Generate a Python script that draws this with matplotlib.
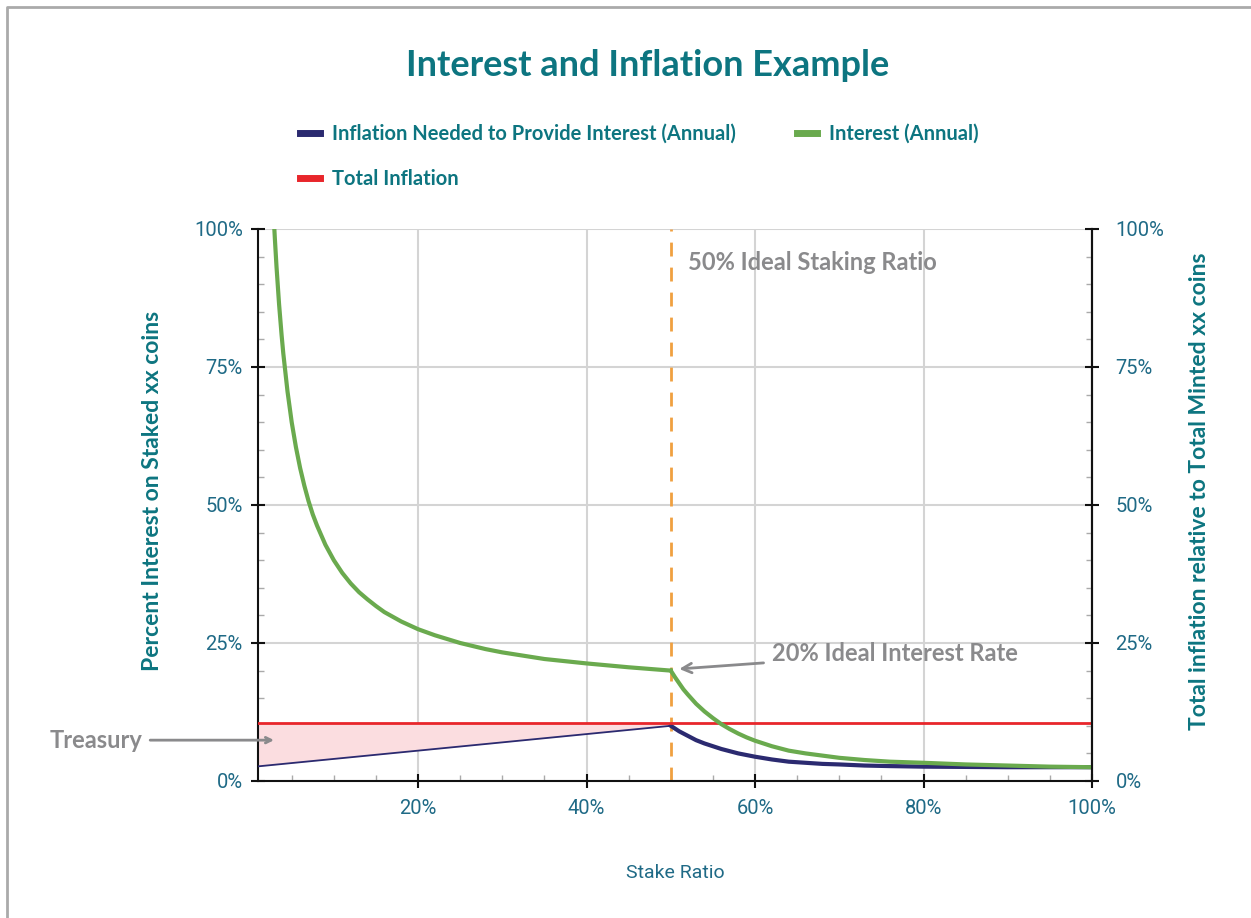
import matplotlib.pyplot as plt
from matplotlib.lines import Line2D
from matplotlib.ticker import MultipleLocator, PercentFormatter

plt.rcParams['font.family'] = ['Lato', 'DejaVu Sans']

# stake ratio (%) and readings (%)
stake_low = [1, 2.8, 3, 3.2, 3.5, 3.8, 4, 4.5, 5, 5.5, 6, 6.5, 7, 7.5, 8, 9, 10, 11, 12, 13, 14,
             15, 16, 18, 20, 22, 25, 28, 30, 35, 40, 45, 50]
interest_low = [265, 104, 98.3, 93.1, 86.4, 80.8, 77.5, 70.6, 65, 60.5, 56.7, 53.5, 50.7, 48.3,
                46.3, 42.8, 40, 37.7, 35.8, 34.2, 32.9, 31.7, 30.6, 28.9, 27.5, 26.4, 25, 23.9,
                23.3, 22.1, 21.3, 20.6, 20]
stake_high = [50, 50.5, 51, 51.5, 52, 53, 54, 55, 56, 57, 58, 59, 60, 62, 64, 66, 68, 70, 73,
              76, 80, 85, 90, 95, 100]
interest_high = [20, 18.8, 17.7, 16.6, 15.7, 14.0, 12.6, 11.4, 10.3, 9.4, 8.6, 7.9, 7.3, 6.3,
                 5.5, 5.0, 4.6, 4.2, 3.8, 3.5, 3.3, 3.0, 2.8, 2.6, 2.5]
inflation_high = [10, 9.5, 9.0, 8.6, 8.2, 7.4, 6.8, 6.3, 5.8, 5.4, 5.0, 4.7, 4.4, 3.9, 3.5,
                  3.3, 3.1, 3.0, 2.8, 2.7, 2.6, 2.55, 2.5, 2.5, 2.5]
treasury_x = [1, 50]
treasury_inflation = [2.65, 10]
total_inflation = 10.5
ideal_stake = 50
ideal_interest = 20

teal = '#0d7580'
tick_col = '#1f6a86'
gray = '#8a8a8c'
green = '#6aaa4e'
navy = '#2b2a70'
red = '#e8262b'
orange = '#f0a040'

fig = plt.figure(figsize=(12.51, 9.18), dpi=100)
ax = fig.add_axes([258 / 1251, 1 - 781 / 918, (1092 - 258) / 1251, (781 - 229) / 918])

ax.fill_between(treasury_x, treasury_inflation, total_inflation, color='#fbdde0', lw=0, zorder=1)
ax.plot(stake_low, interest_low, color=green, lw=3, zorder=4)
ax.plot(stake_high, interest_high, color=green, lw=3, zorder=4)
ax.plot(treasury_x, treasury_inflation, color=navy, lw=1.3, zorder=3)
ax.plot(stake_high, inflation_high, color=navy, lw=3, zorder=3)
ax.axhline(total_inflation, color=red, lw=2, zorder=3)
ax.axvline(ideal_stake, color=orange, lw=2, ls=(0, (5, 4)), zorder=2)

ax.set_xlim(1, 100)
ax.set_ylim(0, 100)
ax.xaxis.set_major_locator(MultipleLocator(20))
ax.xaxis.set_minor_locator(MultipleLocator(5))
ax.yaxis.set_major_locator(MultipleLocator(25))
ax.yaxis.set_minor_locator(MultipleLocator(5))
ax.xaxis.set_major_formatter(PercentFormatter(decimals=0))
ax.yaxis.set_major_formatter(PercentFormatter(decimals=0))
ax.grid(True, which='major', color='#d4d4d4', lw=1.5, zorder=0)
ax.set_axisbelow(True)

for s in ['left', 'right', 'bottom']:
    ax.spines[s].set_color('#111111')
    ax.spines[s].set_linewidth(1.5)
ax.spines['top'].set_visible(False)

tick_font = {'family': ['Roboto', 'DejaVu Sans'], 'size': 14.5}
ax.tick_params(which='major', direction='inout', length=10, width=1.5, color='#111111',
               labelcolor=tick_col, pad=6)
ax.tick_params(which='minor', direction='in', length=4, width=1, color='#aaaaaa')
ax.tick_params(axis='x', which='major', pad=8)

ax2 = ax.twinx()
ax2.set_ylim(0, 100)
ax2.yaxis.set_major_locator(MultipleLocator(25))
ax2.yaxis.set_minor_locator(MultipleLocator(5))
ax2.yaxis.set_major_formatter(PercentFormatter(decimals=0))
ax2.tick_params(which='major', direction='inout', length=10, width=1.5, color='#111111',
                labelcolor=tick_col, pad=12)
ax2.tick_params(which='minor', direction='in', length=4, width=1, color='#aaaaaa')
for s in ['top', 'left', 'bottom']:
    ax2.spines[s].set_visible(False)
ax2.spines['right'].set_color('#111111')
ax2.spines['right'].set_linewidth(1.5)

for lbl in ax.get_xticklabels() + ax.get_yticklabels() + ax2.get_yticklabels():
    lbl.set_fontproperties(tick_font)

ax.set_xlabel('Stake Ratio', fontsize=14, color=tick_col, labelpad=33,
              fontfamily=['Roboto', 'DejaVu Sans'])
ax.set_ylabel('Percent Interest on Staked xx coins', fontsize=16.5, fontweight='bold',
              color=teal, labelpad=22)
ax2.set_ylabel('Total inflation relative to Total Minted xx coins', fontsize=16.5,
               fontweight='bold', color=teal, labelpad=18)
ax.yaxis.label.set_y(0.525)
ax2.yaxis.label.set_y(0.525)

# annotations
ax.text(52, 94, '50% Ideal Staking Ratio', fontsize=17, fontweight='bold', color=gray,
        va='center', ha='left')
ax.annotate('20% Ideal Interest Rate', xy=(ideal_stake + 1, ideal_interest + 0.3),
            xytext=(62, 23.1), fontsize=17, fontweight='bold', color=gray, va='center',
            arrowprops=dict(arrowstyle='->', color=gray, lw=2, shrinkA=4, shrinkB=0))
ax.text(-12.7, 7.4, 'Treasury', fontsize=17, fontweight='bold', color=gray,
        va='center', ha='right')
ax.annotate('', xy=(2.9, 7.4), xytext=(-11.8, 7.4), annotation_clip=False,
            arrowprops=dict(arrowstyle='->', color=gray, lw=2, shrinkA=0, shrinkB=0))

fig.text(648 / 1251, 1 - 65 / 918, 'Interest and Inflation Example', fontsize=26,
         fontweight='bold', color=teal, ha='center', va='center')

handles = [Line2D([], [], color=navy, lw=5),
           Line2D([], [], color=red, lw=5),
           Line2D([], [], color=green, lw=5)]
labels = ['Inflation Needed to Provide Interest (Annual)', 'Total Inflation', 'Interest (Annual)']
leg = fig.legend(handles, labels, loc='upper left', bbox_to_anchor=(282 / 1251, 1 - 106 / 918),
                 ncol=2, frameon=False, handlelength=1.0, handletextpad=0.6,
                 columnspacing=3.0, labelspacing=1.25,
                 prop={'family': ['Lato', 'DejaVu Sans'], 'weight': 'bold', 'size': 14.5})
for t in leg.get_texts():
    t.set_color(teal)

# outer border (top and left)
fig.add_artist(Line2D([7 / 1251, 7 / 1251, 1], [0, 1 - 7 / 918, 1 - 7 / 918],
                      transform=fig.transFigure, color='#aaaaaa', lw=2))

fig.savefig('out.png', dpi=100)
